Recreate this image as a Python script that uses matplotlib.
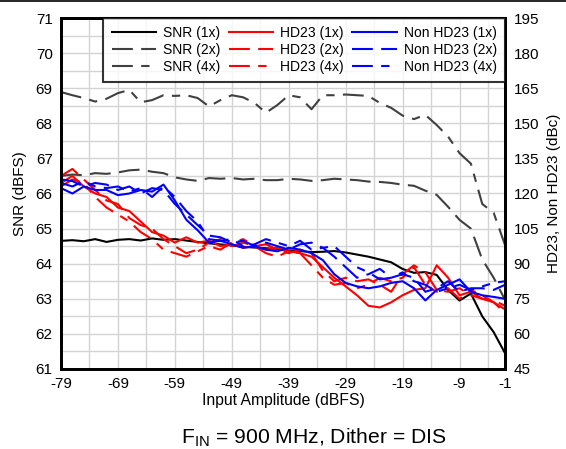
import numpy as np
import matplotlib
matplotlib.use("Agg")
import matplotlib.pyplot as plt
from matplotlib.lines import Line2D

plt.rcParams['font.family'] = ['Liberation Sans', 'DejaVu Sans']
plt.rcParams['axes.unicode_minus'] = False

# input amplitude (dBFS)
amp = list(range(-79, 0, 2))

# SNR (dBFS), left axis
snr_1x = [64.65, 64.67, 64.64, 64.70, 64.62, 64.68, 64.70, 64.66, 64.72, 64.68,
          64.70, 64.66, 64.62, 64.58, 64.55, 64.52, 64.48, 64.46, 64.44, 64.42,
          64.38, 64.36, 64.33, 64.34, 64.36, 64.32, 64.26, 64.20, 64.12, 64.04,
          63.85, 63.74, 63.76, 63.68, 63.25, 62.95, 63.15, 62.50, 62.05, 61.45]
snr_2x = [66.50, 66.54, 66.52, 66.58, 66.56, 66.60, 66.66, 66.68, 66.62, 66.58,
          66.46, 66.40, 66.36, 66.44, 66.42, 66.44, 66.40, 66.42, 66.38, 66.38,
          66.42, 66.40, 66.36, 66.38, 66.42, 66.40, 66.38, 66.34, 66.33, 66.30,
          66.25, 66.22, 66.08, 65.96, 65.62, 65.25, 65.00, 64.12, 63.60, 62.97]
snr_4x = [68.89, 68.80, 68.72, 68.62, 68.70, 68.86, 68.95, 68.60, 68.66, 68.80,
          68.78, 68.80, 68.72, 68.48, 68.66, 68.80, 68.74, 68.58, 68.30, 68.52,
          68.80, 68.74, 68.40, 68.80, 68.80, 68.82, 68.80, 68.78, 68.58, 68.44,
          68.22, 68.12, 68.24, 67.95, 67.62, 67.15, 66.85, 65.70, 65.45, 64.53]

# HD23 / Non HD23 (dBc), right axis
hd_1x = [124.5, 127.5, 123, 120, 118.5, 114, 112.5, 108, 103.5, 102,
         99, 101.3, 99, 99.8, 97.5, 98.3, 96.8, 97.5, 96, 96.8,
         95.3, 94.5, 93, 88.5, 84, 80.3, 76.5, 72, 71.3, 73.5,
         76.5, 78.8, 79.5, 89.3, 84, 76.5, 78, 75, 73.5, 70.5]
hd_2x = [127.5, 130.5, 126, 121.5, 117, 115.5, 109.5, 106.5, 105, 100.5,
         97.5, 94.5, 96, 99, 100.5, 97.5, 99, 97.5, 98.3, 96,
         94.5, 96, 94.5, 87, 82.5, 84, 82.5, 83.3, 81, 78,
         85.5, 89.3, 86.3, 78.8, 78, 79.5, 76.5, 75, 74.3, 72]
hd_4x = [123, 126, 124.5, 118.5, 114, 111, 108, 103.5, 100.5, 96,
         94.5, 93, 95.3, 97.5, 96, 99, 100.5, 97.5, 94.5, 93,
         95.3, 94.5, 89.3, 84, 81, 81.8, 79.5, 81, 84, 82.5,
         84, 88.5, 81, 78, 79.5, 75, 78.8, 76.5, 73.5, 69]
non_1x = [122.3, 120, 123, 121.5, 121.5, 119.3, 120, 121.5, 120.8, 123.8,
          117, 108.8, 104.3, 99, 99.8, 98.3, 96.8, 97.5, 96, 95.3,
          96.8, 96, 94.5, 91.5, 85.5, 81.8, 80.3, 79.5, 80.3, 81.8,
          82.5, 79.5, 74.3, 78.8, 81, 83.3, 78, 76.5, 75.8, 75]
non_2x = [126, 125.3, 123, 124.5, 123.8, 121.5, 123, 120, 122.3, 121.5,
          115.5, 111, 106.5, 102, 101.3, 99, 99.8, 97.5, 99, 97.5,
          96, 98.3, 99, 96.8, 93, 88.5, 84, 85.5, 87.8, 84,
          85.5, 84, 78, 79.5, 82.5, 78, 79.5, 79.5, 78.8, 81]
non_4x = [124.5, 123, 125.3, 123, 122.3, 123, 120.8, 122.3, 118.5, 123,
          118.5, 112.5, 108, 100.5, 99.8, 100.5, 97.5, 98.3, 100.5, 99,
          97.5, 99.8, 96, 96.8, 97.5, 93, 88.5, 86.3, 83.3, 84,
          86.3, 82.5, 81, 78, 79.5, 81, 78.8, 80.3, 81.8, 82.5]

x_ticks = [-79, -69, -59, -49, -39, -29, -19, -9, -1]

dash2 = (0, (10, 4))
dash4 = (0, (10, 4, 4, 4))
gray = '#404040'

fig = plt.figure(figsize=(5.66, 4.49), dpi=100)
ax = fig.add_axes([0.1078, 0.1782, 0.7845, 0.7817])
ax2 = ax.twinx()

lw = 1.5
l1, = ax.plot(amp, snr_1x, color='black', lw=lw, label='SNR (1x)')
l2, = ax.plot(amp, snr_2x, color=gray, lw=lw, ls=dash2, label='SNR (2x)')
l3, = ax.plot(amp, snr_4x, color=gray, lw=lw, ls=dash4, label='SNR (4x)')
l4, = ax2.plot(amp, hd_1x, color='red', lw=lw, label='HD23 (1x)')
l5, = ax2.plot(amp, hd_2x, color='red', lw=lw, ls=dash2, label='HD23 (2x)')
l6, = ax2.plot(amp, hd_4x, color='red', lw=lw, ls=dash4, label='HD23 (4x)')
l7, = ax2.plot(amp, non_1x, color='blue', lw=lw, label='Non HD23 (1x)')
l8, = ax2.plot(amp, non_2x, color='blue', lw=lw, ls=dash2, label='Non HD23 (2x)')
l9, = ax2.plot(amp, non_4x, color='blue', lw=lw, ls=dash4, label='Non HD23 (4x)')

ax.set_xlim(-79, -1)
ax.set_ylim(61, 71)
ax2.set_ylim(45, 195)
ax.set_xticks(x_ticks)
ax.set_xticks(np.arange(-79, 0, 5), minor=True)
ax.set_yticks(np.arange(61, 72, 1))
ax.set_yticks(np.arange(61, 71.01, 0.5), minor=True)
ax2.set_yticks(np.arange(45, 196, 15))
ax.grid(True, which='both', color='#d3d3d3', lw=1)
ax.set_axisbelow(True)
ax.tick_params(which='both', length=0, labelsize=11, pad=6)
ax2.tick_params(which='both', length=0, labelsize=11, pad=6)
for sp in ax2.spines.values():
    sp.set_linewidth(2)
for sp in ax.spines.values():
    sp.set_linewidth(2)

ax.set_xlabel('Input Amplitude (dBFS)', fontsize=11.3, labelpad=1)
ax.set_ylabel('SNR (dBFS)', fontsize=11, labelpad=6)
ax2.set_ylabel('HD23, Non HD23 (dBc)', fontsize=11, labelpad=6)

leg = ax2.legend(handles=[l1, l2, l3, l4, l5, l6, l7, l8, l9], ncol=3,
                 loc='upper right', borderaxespad=0, fontsize=10,
                 handlelength=3.2, handletextpad=0.5, columnspacing=0.6,
                 labelspacing=0.2, frameon=True, fancybox=False,
                 borderpad=0.6)
leg.get_frame().set_edgecolor('black')
leg.get_frame().set_linewidth(1.5)

fig.text(0.555, 0.012, r'F$_\mathregular{IN}$ = 900 MHz, Dither = DIS',
         ha='center', va='baseline', fontsize=15.2)
fig.add_artist(Line2D([0, 1], [0.997, 0.997], color='black', lw=1.2))

fig.savefig('out.png', dpi=100)
